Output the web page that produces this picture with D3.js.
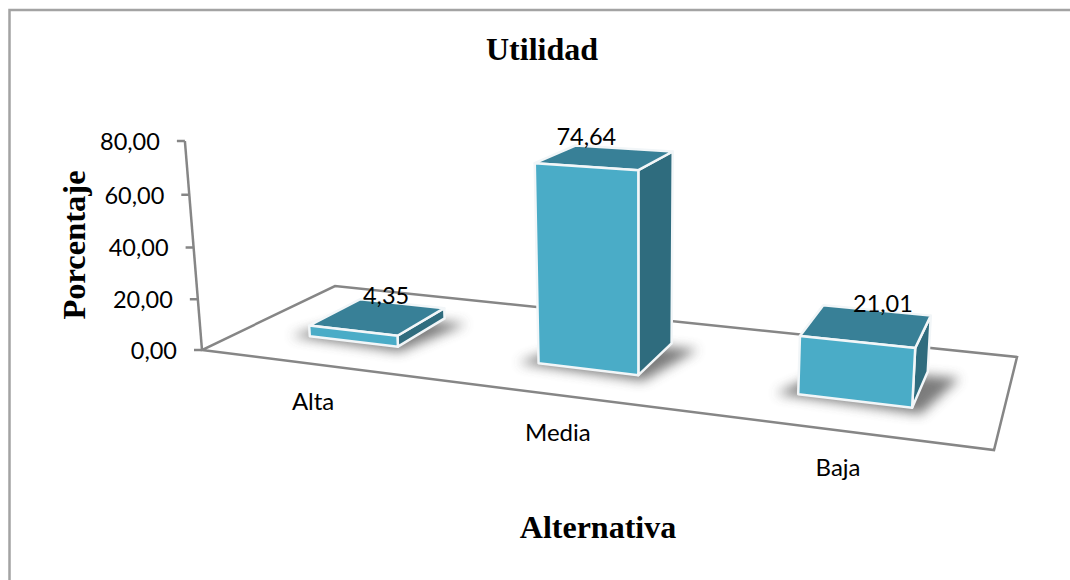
<!DOCTYPE html>
<html><head><meta charset="utf-8">
<script src="https://cdn.jsdelivr.net/npm/d3@7"></script>
<style>html,body{margin:0;padding:0;background:#fff}svg{display:block}</style>
</head><body><div id="c"></div>
<script>
const categories = ["Alta", "Media", "Baja"];
const values = [4.35, 74.64, 21.01];
const valueLabels = ["4,35", "74,64", "21,01"];
const ticks = [0, 20, 40, 60, 80];
const tickLabels = ["0,00", "20,00", "40,00", "60,00", "80,00"];
const title = "Utilidad", xTitle = "Alternativa", yTitle = "Porcentaje";

const W = 1070, H = 580;
const svg = d3.select("#c").append("svg").attr("width", W).attr("height", H);

// Perspective camera: floor quadrilateral + vertical vanishing point
const Q = {fl:[202,350], fr:[994,450], br:[1017,357], bl:[335,286]};
const VP = [640, 5700], axisTop = 141;
const [x0,y0]=Q.fl,[x1,y1]=Q.fr,[x2,y2]=Q.br,[x3,y3]=Q.bl;
const dx1=x1-x2,dx2=x3-x2,sx=x0-x1+x2-x3,dy1=y1-y2,dy2=y3-y2,sy=y0-y1+y2-y3;
const det=dx1*dy2-dx2*dy1;
const g=(sx*dy2-dx2*sy)/det,hh=(dx1*sy-sx*dy1)/det;
const a=x1-x0+g*x1,b=x3-x0+hh*x3,d=y1-y0+g*y1,e=y3-y0+hh*y3;
const s=(axisTop-y0)/(80*(VP[1]-axisTop));

function project(u,v,val){
  const w=g*u+hh*v+1+val*s;
  return [(a*u+b*v+x0+val*s*VP[0])/w,(d*u+e*v+y0+val*s*VP[1])/w];
}
const uScale=d3.scaleBand().domain(categories).range([0,1]).paddingInner(0.6).paddingOuter(0.3);
const vFront=0.30,vBack=0.71;
const hScale=d3.scaleLinear().domain([0,80]).range([0,80]);
const pts=a=>a.map(p=>p.join(",")).join(" ");

const defs=svg.append("defs");
defs.append("filter").attr("id","blur").attr("x","-40%").attr("y","-40%").attr("width","180%").attr("height","180%")
  .append("feGaussianBlur").attr("stdDeviation",6);

// frame
svg.append("path").attr("d",`M9.5,${H}V10H${W}`).attr("fill","none").attr("stroke","#a3a3a3").attr("stroke-width",2.5);

// floor
const axisCol="#868686";
svg.append("polygon").attr("points",pts([Q.fl,Q.fr,Q.br,Q.bl])).attr("fill","#fff").attr("stroke",axisCol).attr("stroke-width",2.5);

// value axis
svg.append("line").attr("x1",project(0,0,0)[0]).attr("y1",project(0,0,0)[1])
  .attr("x2",project(0,0,80)[0]).attr("y2",project(0,0,80)[1]).attr("stroke",axisCol).attr("stroke-width",2.5);
const tk=svg.append("g").selectAll("g").data(ticks).join("g");
tk.append("line")
  .attr("x1",t=>project(0,0,hScale(t))[0]-8).attr("x2",t=>project(0,0,hScale(t))[0])
  .attr("y1",t=>project(0,0,hScale(t))[1]).attr("y2",t=>project(0,0,hScale(t))[1])
  .attr("stroke",axisCol).attr("stroke-width",2.5);
tk.append("text").text((t,i)=>tickLabels[i])
  .attr("x",t=>project(0,0,hScale(t))[0]-25).attr("y",t=>project(0,0,hScale(t))[1]+3)
  .attr("text-anchor","end").attr("dominant-baseline","middle")
  .attr("font-family","Lato, sans-serif").attr("font-size",23.5).attr("fill","#000");

// bars
const data=categories.map((c,i)=>({c,v:values[i],label:valueLabels[i]}));
const labelDx=[8,-19,16], labelDy=[-19,-18,-19];
const bars=svg.append("g").selectAll("g").data(data).join("g");
bars.each(function(r,i){
  const G=d3.select(this);
  const u0=uScale(r.c),u1=u0+uScale.bandwidth(),h=hScale(r.v);
  const P=(u,v,z)=>project(u,v,z);
  // shadow on the floor
  G.append("polygon").attr("points",pts([
      P(u0-0.025,vFront-0.02,0),P(u1+0.012,vFront-0.055,0),P(u1+0.04,vBack-0.04,0),P(u0+0.02,vBack-0.08,0)]))
    .attr("fill","#4a4a4a").attr("opacity",0.72).attr("filter","url(#blur)");
  const face=(p,f)=>G.append("polygon").attr("points",pts(p)).attr("fill",f)
     .attr("stroke","#f2f6f8").attr("stroke-width",2.5).attr("stroke-linejoin","round");
  face([P(u1,vFront,0),P(u1,vBack,0),P(u1,vBack,h),P(u1,vFront,h)],"#2f6c7e");
  face([P(u0,vFront,h),P(u1,vFront,h),P(u1,vBack,h),P(u0,vBack,h)],"#388097");
  face([P(u0,vFront,0),P(u1,vFront,0),P(u1,vFront,h),P(u0,vFront,h)],"#4aacc7");
  const c=P(u0+uScale.bandwidth()/2,(vFront+vBack)/2,h);
  svg.append("text").datum(r).attr("class","vl").text(r.label)
    .attr("x",c[0]+labelDx[i]).attr("y",c[1]+labelDy[i])
    .attr("text-anchor","middle").attr("dominant-baseline","middle")
    .attr("font-family","Lato, sans-serif").attr("font-size",23.5).attr("fill","#000");
});
svg.selectAll("text.vl").raise();

// category labels
svg.append("g").selectAll("text").data(categories).join("text").text(c=>c)
  .attr("x",c=>project(uScale(c)+uScale.bandwidth()/2,0,0)[0])
  .attr("y",c=>project(uScale(c)+uScale.bandwidth()/2,0,0)[1]+40)
  .attr("text-anchor","middle").attr("dominant-baseline","middle")
  .attr("font-family","Lato, sans-serif").attr("font-size",24).attr("fill","#000");

// titles
const serif="'Liberation Serif', serif";
svg.append("text").text(title).attr("x",542).attr("y",60).attr("text-anchor","middle")
  .attr("font-family",serif).attr("font-weight","bold").attr("font-size",32);
svg.append("text").text(xTitle).attr("x",598).attr("y",538).attr("text-anchor","middle")
  .attr("font-family",serif).attr("font-weight","bold").attr("font-size",32);
svg.append("text").text(yTitle).attr("transform","translate(85,245) rotate(-90)").attr("text-anchor","middle")
  .attr("font-family",serif).attr("font-weight","bold").attr("font-size",32.5);
</script></body></html>
